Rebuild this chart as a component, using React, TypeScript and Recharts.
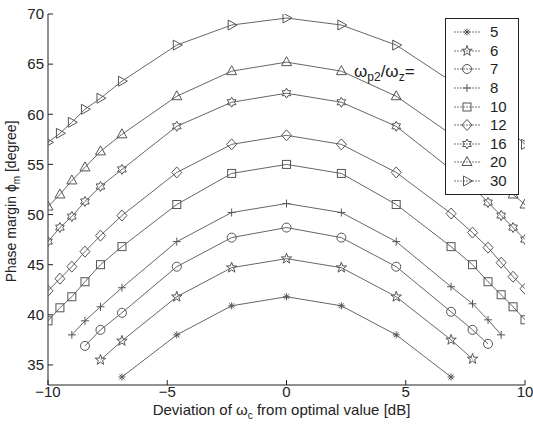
import { Label, Legend, Line, LineChart, XAxis, YAxis } from 'recharts';

// deviation of the crossover frequency [dB], shared sample grid
const X_DB = [-10, -9.5, -9, -8.45, -7.8, -6.9, -4.6, -2.3, 0, 2.3, 4.6, 6.9, 7.8, 8.45, 9, 9.5, 10];

// phase margin [degree] for each wp2/wz ratio
const PM_5 = [null, null, null, null, null, 33.8, 38.0, 40.9, 41.8, 40.9, 38.0, 33.8, null, null, null, null, null];
const PM_6 = [null, null, null, null, 35.5, 37.4, 41.8, 44.7, 45.6, 44.7, 41.8, 37.5, 35.6, null, null, null, null];
const PM_7 = [null, null, null, 36.9, 38.5, 40.2, 44.8, 47.7, 48.7, 47.7, 44.8, 40.3, 38.5, 37.1, null, null, null];
const PM_8 = [null, null, 38.0, 39.4, 40.8, 42.7, 47.3, 50.2, 51.1, 50.2, 47.3, 42.8, 41.1, 39.5, 38.0, null, null];
const PM_10 = [39.4, 40.7, 41.8, 43.3, 45.0, 46.8, 51.0, 54.1, 55.0, 54.1, 51.0, 46.8, 45.0, 43.3, 42.0, 40.8, 39.5];
const PM_12 = [42.4, 43.6, 44.8, 46.3, 47.9, 49.9, 54.2, 57.0, 57.9, 57.0, 54.2, 50.1, 48.2, 46.7, 45.2, 43.8, 42.6];
const PM_16 = [47.3, 48.7, 49.8, 51.3, 52.8, 54.5, 58.8, 61.2, 62.1, 61.2, 58.8, 54.5, 52.8, 51.2, 49.9, 48.7, 47.5];
const PM_20 = [50.8, 52.0, 53.4, 54.7, 56.3, 58.0, 61.8, 64.3, 65.2, 64.3, 61.8, 58.0, 56.3, 54.7, 53.4, 52.0, 51.0];
const PM_30 = [57.2, 58.1, 59.2, 60.5, 61.6, 63.3, 66.9, 68.9, 69.6, 68.9, 66.9, 63.3, 61.6, 60.5, 59.2, 58.1, 57.0];

const X_TICKS = [-10, -5, 0, 5, 10];
const Y_TICKS = [35, 40, 45, 50, 55, 60, 65, 70];

const SERIES = [
  { key: 's5', name: '5', shape: 'asterisk', values: PM_5 },
  { key: 's6', name: '6', shape: 'pentagram', values: PM_6 },
  { key: 's7', name: '7', shape: 'circle', values: PM_7 },
  { key: 's8', name: '8', shape: 'plus', values: PM_8 },
  { key: 's10', name: '10', shape: 'square', values: PM_10 },
  { key: 's12', name: '12', shape: 'diamond', values: PM_12 },
  { key: 's16', name: '16', shape: 'hexagram', values: PM_16 },
  { key: 's20', name: '20', shape: 'triangleUp', values: PM_20 },
  { key: 's30', name: '30', shape: 'triangleRight', values: PM_30 }
];

const chartData = X_DB.map((x, i) => {
  const row: Record<string, number | null> = { x };
  SERIES.forEach((s) => {
    row[s.key] = s.values[i];
  });
  return row;
});

const INK = '#222';
const LINE = '#555';
const FONT = '"Liberation Sans", Arial, sans-serif';

function starPoints(cx: number, cy: number, n: number, outer: number, inner: number) {
  const pts: string[] = [];
  for (let i = 0; i < n * 2; i++) {
    const r = i % 2 === 0 ? outer : inner;
    const a = -Math.PI / 2 + (i * Math.PI) / n;
    pts.push(`${cx + r * Math.cos(a)},${cy + r * Math.sin(a)}`);
  }
  return pts.join(' ');
}

function Marker({ shape, cx, cy }: { shape: string; cx: number; cy: number }) {
  const common = { fill: 'none', stroke: LINE, strokeWidth: 1 };
  switch (shape) {
    case 'asterisk':
      return (
        <g {...common}>
          <line x1={cx - 3.5} y1={cy} x2={cx + 3.5} y2={cy} />
          <line x1={cx} y1={cy - 3.5} x2={cx} y2={cy + 3.5} />
          <line x1={cx - 2.5} y1={cy - 2.5} x2={cx + 2.5} y2={cy + 2.5} />
          <line x1={cx - 2.5} y1={cy + 2.5} x2={cx + 2.5} y2={cy - 2.5} />
        </g>
      );
    case 'pentagram':
      return <polygon points={starPoints(cx, cy, 5, 5.5, 2.2)} {...common} />;
    case 'circle':
      return <circle cx={cx} cy={cy} r={4.5} {...common} />;
    case 'plus':
      return (
        <g {...common}>
          <line x1={cx - 4} y1={cy} x2={cx + 4} y2={cy} />
          <line x1={cx} y1={cy - 4} x2={cx} y2={cy + 4} />
        </g>
      );
    case 'square':
      return <rect x={cx - 4} y={cy - 4} width={8} height={8} {...common} />;
    case 'diamond':
      return <polygon points={`${cx},${cy - 5.5} ${cx + 5},${cy} ${cx},${cy + 5.5} ${cx - 5},${cy}`} {...common} />;
    case 'hexagram':
      return <polygon points={starPoints(cx, cy, 6, 5, 2.9)} {...common} />;
    case 'triangleUp':
      return <polygon points={`${cx},${cy - 5.5} ${cx + 5},${cy + 3.5} ${cx - 5},${cy + 3.5}`} {...common} />;
    case 'triangleRight':
      return <polygon points={`${cx + 5.5},${cy} ${cx - 3.5},${cy - 5} ${cx - 3.5},${cy + 5}`} {...common} />;
    default:
      return null;
  }
}

function makeDot(shape: string) {
  return (props: any) => {
    const { cx, cy, index, value } = props;
    if (value == null || cx == null || cy == null) {
      return <g key={`${shape}-${index}`} />;
    }
    return (
      <g key={`${shape}-${index}`}>
        <Marker shape={shape} cx={cx} cy={cy} />
      </g>
    );
  };
}

function formatTick(v: number) {
  return v < 0 ? `\u2212${Math.abs(v)}` : `${v}`;
}

function renderLegend() {
  return (
    <div
      style={{
        border: `1px solid ${INK}`,
        background: '#fff',
        padding: '4px 0',
        width: 72,
        fontFamily: FONT,
        fontSize: 15,
        color: INK
      }}
    >
      {SERIES.map((s) => (
        <div key={s.key} style={{ display: 'flex', alignItems: 'center', height: 18.6 }}>
          <svg width={44} height={18} style={{ display: 'block' }}>
            <line x1={8} y1={9} x2={35} y2={9} stroke="#777" strokeWidth={1} strokeDasharray="2 1" />
            <Marker shape={s.shape} cx={21} cy={9} />
          </svg>
          <span style={{ lineHeight: '18px' }}>{s.name}</span>
        </div>
      ))}
    </div>
  );
}

function YLabel(props: any) {
  const { viewBox } = props;
  const cx = viewBox.x + 16;
  const cy = viewBox.y + viewBox.height / 2 + 2;
  return (
    <text
      x={cx}
      y={cy}
      transform={`rotate(-90 ${cx} ${cy})`}
      textAnchor="middle"
      fontFamily={FONT}
      fontSize={14}
      fill={INK}
    >
      Phase margin ϕ<tspan fontSize={10} dy={4}>m</tspan>
      <tspan dy={-4}> [degree]</tspan>
    </text>
  );
}

function XLabel(props: any) {
  const { viewBox } = props;
  const cx = viewBox.x + viewBox.width / 2 - 5;
  return (
    <text x={cx} y={viewBox.y + 30} textAnchor="middle" fontFamily={FONT} fontSize={15} fill={INK}>
      Deviation of ω<tspan fontSize={10} dy={4}>c</tspan>
      <tspan dy={-4}> from optimal value [dB]</tspan>
    </text>
  );
}

export default function App() {
  const tickStyle = { fill: INK, fontSize: 15, fontFamily: FONT };
  return (
    <div style={{ position: 'absolute', left: 0, top: 0, width: 533, height: 424, background: '#fff' }}>
      <LineChart
        width={533}
        height={424}
        data={chartData}
        margin={{ top: 14, right: 8, left: 0, bottom: 0 }}
      >
        <XAxis
          dataKey="x"
          type="number"
          domain={[-10, 10]}
          ticks={X_TICKS}
          height={39}
          stroke={INK}
          tickSize={-5}
          tickMargin={6}
          tick={tickStyle}
          tickFormatter={formatTick}
          allowDataOverflow
        >
          <Label content={XLabel} />
        </XAxis>
        <XAxis
          xAxisId="top"
          orientation="top"
          dataKey="x"
          type="number"
          domain={[-10, 10]}
          ticks={X_TICKS}
          height={0}
          stroke={INK}
          tickSize={-5}
          tickFormatter={() => ''}
          allowDataOverflow
        />
        <YAxis
          type="number"
          domain={[33, 70]}
          ticks={Y_TICKS}
          width={48}
          stroke={INK}
          tickSize={-5}
          tickMargin={9}
          tick={tickStyle}
          allowDataOverflow
        >
          <Label content={YLabel} />
        </YAxis>
        <YAxis
          yAxisId="right"
          orientation="right"
          type="number"
          domain={[33, 70]}
          ticks={Y_TICKS}
          width={0}
          stroke={INK}
          tickSize={-5}
          tickFormatter={() => ''}
          allowDataOverflow
        />
        <Legend
          layout="vertical"
          align="center"
          verticalAlign="middle"
          content={renderLegend}
          wrapperStyle={{ left: 445, top: 18, width: 74 }}
        />
        {SERIES.map((s) => (
          <Line
            key={s.key}
            dataKey={s.key}
            name={s.name}
            type="linear"
            stroke={LINE}
            strokeWidth={0.9}
            dot={makeDot(s.shape)}
            activeDot={false}
            connectNulls={false}
            isAnimationActive={false}
          />
        ))}
      </LineChart>
      <div
        style={{
          position: 'absolute',
          left: 354,
          top: 62,
          fontFamily: FONT,
          fontSize: 17,
          color: INK,
          whiteSpace: 'nowrap'
        }}
      >
        ω<sub style={{ fontSize: 12 }}>p2</sub>/ω<sub style={{ fontSize: 12 }}>z</sub>=
      </div>
    </div>
  );
}
